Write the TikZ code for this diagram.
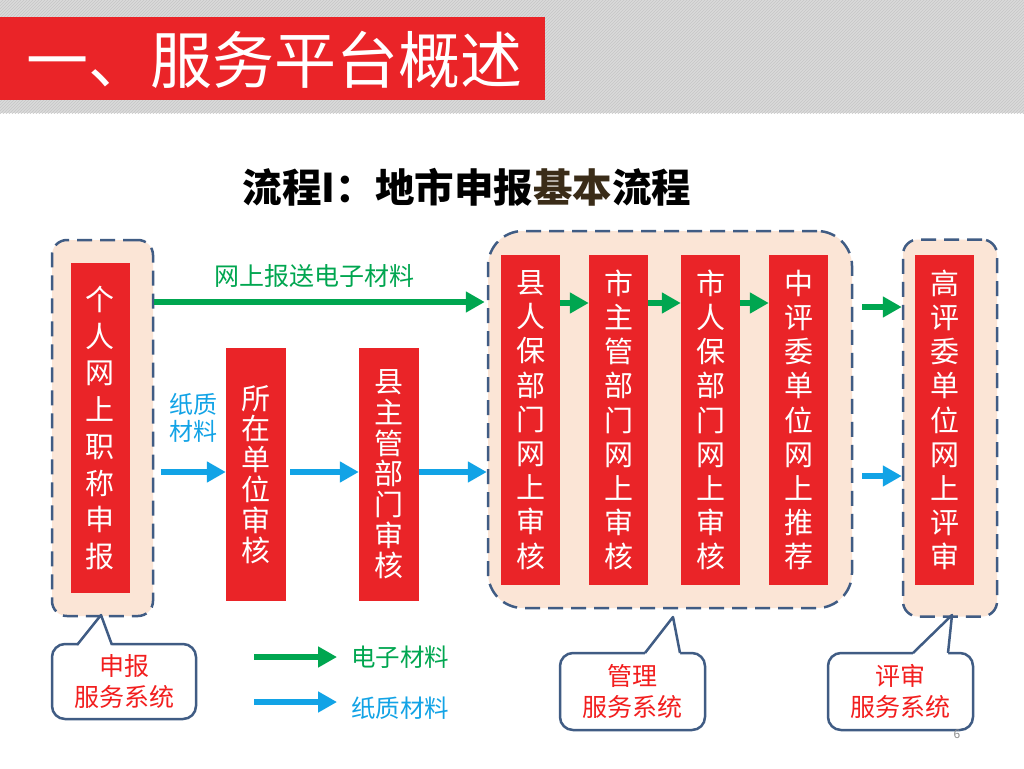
\documentclass[tikz,border=0pt]{standalone}
\usepackage{fontspec}
\setmainfont{Noto Sans CJK SC}
\usetikzlibrary{arrows.meta,patterns}
\definecolor{tred}{HTML}{EA2428}
\definecolor{peach}{HTML}{FBE5D6}
\definecolor{dashblue}{HTML}{405C84}
\definecolor{agreen}{HTML}{00A650}
\definecolor{ablue}{HTML}{12A3E6}
\definecolor{bandgray}{HTML}{DADADA}
\definecolor{hatch}{HTML}{C6C6C6}
\definecolor{brn}{HTML}{3A2C18}
\definecolor{pgray}{HTML}{8C8C8C}
\definecolor{cred}{HTML}{F21E1E}
\tikzset{
  container/.style={draw=dashblue, fill=peach, line width=2.5pt, dash pattern=on 15pt off 8pt, inner sep=0pt},
  redbox/.style={fill=tred, text=white, inner sep=0pt, align=center, minimum width=59pt, minimum height=330pt},
  garrow/.style={draw=agreen, line width=6pt, -{Triangle[length=19pt,width=20pt]}},
  barrow/.style={draw=ablue, line width=6pt, -{Triangle[length=19pt,width=20pt]}},
  cbox/.style={draw=dashblue, fill=white, line width=2.5pt, rounded corners=13pt, text=cred, align=center, inner sep=0pt, minimum width=144pt, minimum height=75pt, font=\fontsize{25}{31}\selectfont},
  cptr/.style={draw=dashblue, line width=2.5pt, line join=round},
}
\begin{document}
\begin{tikzpicture}[x=1pt,y=-1pt]
\useasboundingbox (0,0) rectangle (1024,768);
\fill[white] (0,0) rectangle (1024,768);
% header band
\fill[bandgray] (0,0) rectangle (1024,113);
\fill[pattern=north east lines, pattern color=hatch] (0,0) rectangle (1024,113);
\node[fill=tred, minimum width=545pt, minimum height=83pt, anchor=north west, inner sep=0pt] (tbar) at (0,17) {};
\node[text=white, anchor=west, inner sep=0pt, font=\fontsize{62}{62}\selectfont] (title) at (26,60) {一、服务平台概述};
% subtitle
\node[inner sep=0pt, font=\bfseries\fontsize{39.5}{39.5}\selectfont] (sub) at (467,187) {流程I：地市申报{\color{brn}基本}流程};
% containers
\node[container, rounded corners=15pt, minimum width=101pt, minimum height=376pt] (g1) at (102.5,428) {};
\node[container, rounded corners=35pt, minimum width=364pt, minimum height=377pt] (g2) at (670,419.5) {};
\node[container, rounded corners=15pt, minimum width=94pt, minimum height=377pt] (g3) at (950,428) {};
% red boxes
\node[redbox, font=\fontsize{29}{36.7}\selectfont] (r1) at (100,428) {个\\人\\网\\上\\职\\称\\申\\报};
\node[redbox, minimum width=60pt, minimum height=253pt, font=\fontsize{29}{30.5}\selectfont] (r2) at (256,474.5) {所\\在\\单\\位\\审\\核};
\node[redbox, minimum width=60pt, minimum height=253pt, font=\fontsize{29}{30.7}\selectfont] (r3) at (389,474.5) {县\\主\\管\\部\\门\\审\\核};
\node[redbox, font=\fontsize{29}{34.2}\selectfont] (r4) at (530.5,420) {县\\人\\保\\部\\门\\网\\上\\审\\核};
\node[redbox, font=\fontsize{29}{34.2}\selectfont] (r5) at (618.5,420) {市\\主\\管\\部\\门\\网\\上\\审\\核};
\node[redbox, font=\fontsize{29}{34.2}\selectfont] (r6) at (710.5,420) {市\\人\\保\\部\\门\\网\\上\\审\\核};
\node[redbox, font=\fontsize{29}{34.2}\selectfont] (r7) at (798.5,420) {中\\评\\委\\单\\位\\网\\上\\推\\荐};
\node[redbox, font=\fontsize{29}{34.2}\selectfont] (r8) at (944.5,420) {高\\评\\委\\单\\位\\网\\上\\评\\审};
% labels
\node[text=agreen, inner sep=0pt, font=\fontsize{25}{25}\selectfont] (lab1) at (314,276) {网上报送电子材料};
\node[text=ablue, inner sep=0pt, align=center, font=\fontsize{24}{27}\selectfont] (lab2) at (193.5,418) {纸质\\材料};
% arrows
\coordinate (gt) at (0,302);
\coordinate (gi) at (0,303);
\coordinate (gr) at (0,307);
\coordinate (bl) at (161,472);
\coordinate (br) at (0,476);
\draw[garrow, shorten >=2pt] (gt -| g1.east) -- (gt -| g2.west);
\draw[garrow] (gi -| r4.east) -- (gi -| r5.west);
\draw[garrow] (gi -| r5.east) -- (gi -| r6.west);
\draw[garrow] (gi -| r6.east) -- (gi -| r7.west);
\draw[garrow, shorten <=9pt] (gr -| g2.east) -- (gr -| g3.west);
\draw[barrow] (bl) -- (bl -| r2.west);
\draw[barrow, shorten <=4pt] (bl -| r2.east) -- (bl -| r3.west);
\draw[barrow] (bl -| r3.east) -- (bl -| g2.west);
\draw[barrow, shorten <=9pt] (br -| g2.east) -- (br -| g3.west);
% legend
\coordinate (lg1) at (254,657);
\coordinate (lg2) at (254,702);
\node[text=agreen, anchor=west, inner sep=0pt, font=\fontsize{24.5}{24.5}\selectfont] (leg1) at (351,657) {电子材料};
\node[text=ablue, anchor=west, inner sep=0pt, font=\fontsize{24.5}{24.5}\selectfont] (leg2) at (351,708) {纸质材料};
\draw[garrow, shorten >=14pt] (lg1) -- (lg1 -| leg1.west);
\draw[barrow, shorten >=14pt] (lg2) -- (lg2 -| leg2.west);
% callouts
\node[cbox] (c1) at (124,681.5) {申报\\服务系统};
\node[cbox, minimum width=145pt, minimum height=77pt] (c2) at (632.5,691.5) {管理\\服务系统};
\node[cbox, minimum width=145pt, minimum height=77pt] (c3) at (900.5,691.5) {评审\\服务系统};
\coordinate (t1) at (101,615);
\coordinate (t2) at (673,617);
\coordinate (t3) at (952,615);
\fill[white] (77,649) -- (77,645) -- (t1) -- (112,645) -- (112,649) -- cycle;
\fill[white] (645,656) -- (645,653) -- (t2) -- (680,653) -- (680,656) -- cycle;
\fill[white] (913,656) -- (913,653) -- (t3) -- (948,653) -- (948,656) -- cycle;
\draw[cptr] (77,645) -- (t1) -- (112,645);
\draw[cptr] (645,653) -- (t2) -- (680,653);
\draw[cptr] (913,653) -- (t3) -- (948,653);
% page number
\node[text=pgray, inner sep=0pt, font=\fontsize{12}{12}\selectfont] (pn) at (957,734) {6};
\end{tikzpicture}
\end{document}
